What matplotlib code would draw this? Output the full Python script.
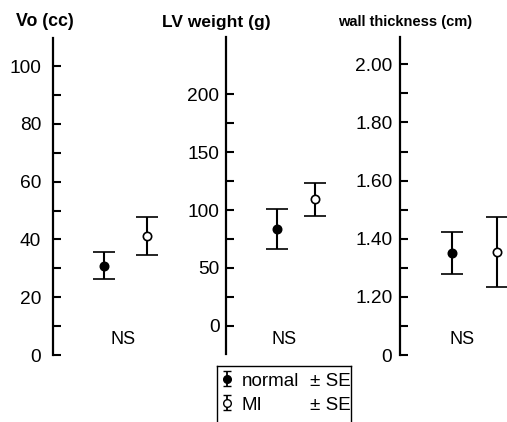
import matplotlib
matplotlib.use("Agg")
import matplotlib.pyplot as plt

# ---------------- data ----------------
groups = ["normal", "MI"]
vo_mean = [30.9, 41.2]
vo_se = [4.7, 6.6]
lv_mean = [83.6, 109.2]
lv_se = [17.0, 14.1]
wt_mean = [1.350, 1.355]
wt_se = [0.072, 0.121]

vo_ticks = [0, 20, 40, 60, 80, 100]
vo_labels = ["0", "20", "40", "60", "80", "100"]
vo_minor = [10, 30, 50, 70, 90]
lv_ticks = [0, 50, 100, 150, 200]
lv_labels = ["0", "50", "100", "150", "200"]
lv_minor = [25, 75, 125, 175]
wt_ticks = [1.0, 1.2, 1.4, 1.6, 1.8, 2.0]
wt_labels = ["0", "1.20", "1.40", "1.60", "1.80", "2.00"]
wt_minor = [1.1, 1.3, 1.5, 1.7, 1.9]

titles = ["Vo (cc)", "LV weight (g)", "wall thickness (cm)"]
signif = ["NS", "NS", "NS"]
legend_labels = ["normal", "MI"]
legend_suffix = "± SE"

# ---------------- layout ----------------
W, H = 507, 422
FONT = ["Liberation Sans", "DejaVu Sans"]
plt.rcParams["font.family"] = FONT

fig = plt.figure(figsize=(W / 100, H / 100), dpi=100)
fig.patch.set_facecolor("white")

def fx(px):
    return px / W

def fy(py):
    return 1 - py / H

panels = [
    dict(axis=53, top=38, bottom=355, x0=104, x1=147, ylim=(0, 109.7), pad=8.6,
         title_x=44.5, title_fs=12.8, ns_x=123,
         mean=vo_mean, se=vo_se, ticks=vo_ticks, labels=vo_labels, minor=vo_minor),
    dict(axis=225.7, top=37, bottom=354, x0=276.7, x1=315, ylim=(-24.5, 249.6), pad=4.5,
         title_x=216, title_fs=12.5, ns_x=284,
         mean=lv_mean, se=lv_se, ticks=lv_ticks, labels=lv_labels, minor=lv_minor),
    dict(axis=400, top=37, bottom=355, x0=451.7, x1=497.3, ylim=(1.0, 2.094), pad=5.5,
         title_x=405, title_fs=10.5, ns_x=461.7,
         mean=wt_mean, se=wt_se, ticks=wt_ticks, labels=wt_labels, minor=wt_minor),
]

AW = 105
for i, p in enumerate(panels):
    ax = fig.add_axes([fx(p["axis"]), fy(p["bottom"]), fx(AW), (p["bottom"] - p["top"]) / H])
    ax.set_facecolor("none")
    s = p["x1"] - p["x0"]
    left = -(p["x0"] - p["axis"]) / s
    ax.set_xlim(left, left + AW / s)
    ax.set_ylim(*p["ylim"])
    for side in ["top", "right", "bottom"]:
        ax.spines[side].set_visible(False)
    ax.spines["left"].set_linewidth(1.6)
    ax.set_xticks([])
    ax.set_yticks(p["ticks"])
    ax.set_yticklabels(p["labels"])
    ax.set_yticks(p["minor"], minor=True)
    ax.tick_params(axis="y", which="both", direction="in", length=5.5, width=1.5,
                   pad=p["pad"], labelsize=13.8)
    for j in range(2):
        ax.errorbar([j], [p["mean"][j]], yerr=[p["se"][j]], fmt="o", ms=6,
                    mfc="black" if j == 0 else "white", mec="black", mew=1.2,
                    ecolor="black", elinewidth=1.5, capsize=8, capthick=1.5,
                    clip_on=False, zorder=3)
    fig.text(fx(p["title_x"]), fy(22), titles[i], ha="center", va="center",
             fontsize=p["title_fs"], fontweight="bold")
    fig.text(fx(p["ns_x"]), fy(340), signif[i], ha="center", va="center", fontsize=13)

# ---------------- legend ----------------
lx0, lx1, ly0, ly1 = 217, 351, 366, 432
lax = fig.add_axes([fx(lx0), fy(ly1), fx(lx1 - lx0), (ly1 - ly0) / H])
lax.set_xlim(0, 1)
lax.set_ylim(1, 0)
lax.set_xticks([])
lax.set_yticks([])
for sp in lax.spines.values():
    sp.set_linewidth(1.0)
key_x = (227 - lx0) / (lx1 - lx0)
rows = [(379 - ly0) / (ly1 - ly0), (403 - ly0) / (ly1 - ly0)]
half = 7.5 / (ly1 - ly0)
for j, ry in enumerate(rows):
    lax.errorbar([key_x], [ry], yerr=[half], fmt="o", ms=5.5,
                 mfc="black" if j == 0 else "white", mec="black", mew=1.0,
                 ecolor="black", elinewidth=1.3, capsize=3, capthick=1.3)
    lax.text((241.7 - lx0) / (lx1 - lx0), ry + 2.5 / (ly1 - ly0), legend_labels[j],
             ha="left", va="center", fontsize=13.5)
    lax.text((310 - lx0) / (lx1 - lx0), ry + 2.5 / (ly1 - ly0), legend_suffix,
             ha="left", va="center", fontsize=13.5)

fig.savefig("out.png", dpi=100, facecolor="white")
